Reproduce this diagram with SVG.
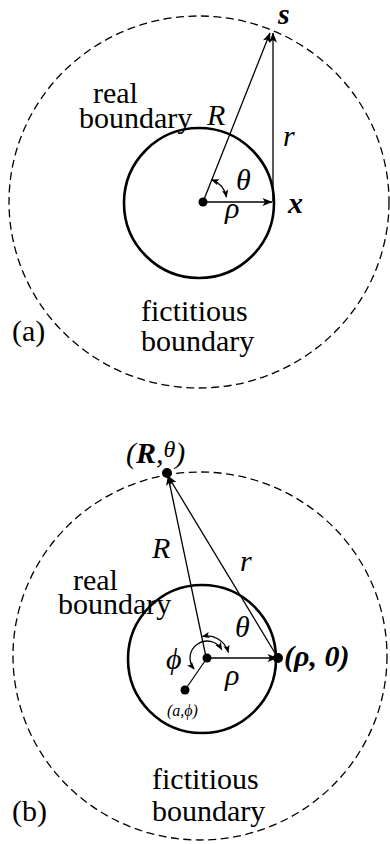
<svg xmlns="http://www.w3.org/2000/svg" width="390" height="844" viewBox="0 0 390 844">
<defs>
<marker id="ah" viewBox="0 0 10 8" refX="9.5" refY="4" markerWidth="11" markerHeight="8" markerUnits="userSpaceOnUse" orient="auto-start-reverse">
<path d="M0,0 L10,4 L0,8 L2.5,4 z" fill="#000"/>
</marker>
<marker id="ahs" viewBox="0 0 10 8" refX="9" refY="4" markerWidth="8" markerHeight="7" markerUnits="userSpaceOnUse" orient="auto-start-reverse">
<path d="M0,0 L10,4 L0,8 L2.5,4 z" fill="#000"/>
</marker>
</defs>
<style>
.fict{fill:none;stroke:#000;stroke-width:1.3;stroke-dasharray:8 4.5}
.real{fill:none;stroke:#000;stroke-width:2.6}
.ln{fill:none;stroke:#000;stroke-width:1.3}
.arr{fill:none;stroke:#000;stroke-width:1.3;marker-end:url(#ah)}
.ang{fill:none;stroke:#000;stroke-width:1.3;marker-start:url(#ahs);marker-end:url(#ahs)}
.dot{fill:#000}
text{font-family:"Liberation Serif","Times New Roman",serif;fill:#000}
.t{font-size:30px}
.i{font-style:italic}
.b{font-weight:bold}
</style>
<rect width="390" height="844" fill="#fff"/>

<!-- Diagram (a) -->
<g id="a-fictitious">
<ellipse class="fict" cx="199" cy="202" rx="190" ry="186"/>
<text class="t" x="141" y="321">fictitious</text>
<text class="t" x="141" y="351">boundary</text>
</g>
<g id="a-real">
<circle class="real" cx="199" cy="203" r="75"/>
<text class="t" x="93" y="103">real</text>
<text class="t" x="79" y="128">boundary</text>
</g>
<g id="a-center"><circle class="dot" cx="203" cy="202" r="4.5"/></g>
<g id="a-s"><text class="t i b" x="278" y="24" font-size="26">s</text></g>
<g id="a-x"><text class="t i b" x="288" y="213" font-size="27">x</text></g>
<g id="a-connectors">
<line class="arr" x1="203" y1="202" x2="272" y2="202"/>
<line class="arr" x1="203" y1="202" x2="270" y2="33"/>
<line class="arr" x1="273" y1="202" x2="273" y2="33"/>
<path class="ang" d="M211.8,179.7 A24,24 0 0 1 226.5,197"/>
</g>
<g id="a-labels">
<text class="t i" x="207" y="125">R</text>
<text class="t i" x="283" y="146">r</text>
<text class="t i" x="236" y="190" font-size="26">θ</text>
<text class="t i" x="225" y="218" font-size="26">ρ</text>
<text class="t" x="12" y="341">(a)</text>
</g>

<!-- Diagram (b) -->
<g id="b-fictitious">
<ellipse class="fict" cx="200" cy="656" rx="187" ry="184"/>
<text class="t" x="152" y="789">fictitious</text>
<text class="t" x="152" y="821">boundary</text>
</g>
<g id="b-real">
<circle class="real" cx="202" cy="659" r="74"/>
<text class="t" x="73" y="590">real</text>
<text class="t" x="58" y="614">boundary</text>
</g>
<g id="b-center"><circle class="dot" cx="207" cy="658" r="4.5"/></g>
<g id="b-Rtheta">
<circle class="dot" cx="167" cy="473" r="5"/>
<text x="126" y="463" font-size="30"><tspan class="i">(</tspan><tspan class="i b">R</tspan><tspan class="i">,</tspan><tspan class="i" font-size="24" dy="-6">θ</tspan><tspan class="i" dy="6">)</tspan></text>
</g>
<g id="b-rho0">
<circle class="dot" cx="278" cy="658" r="5"/>
<text class="i b" x="284" y="666" font-size="30">(ρ, 0)</text>
</g>
<g id="b-aphi">
<circle class="dot" cx="185" cy="690" r="4.5"/>
<text class="i" x="167" y="716" font-size="16">(a,ϕ)</text>
</g>
<g id="b-connectors">
<line class="arr" x1="207" y1="658" x2="277" y2="658"/>
<line class="arr" x1="206" y1="657" x2="168" y2="476"/>
<line class="arr" x1="278" y1="658" x2="168" y2="476"/>
<line class="ln" x1="207" y1="658" x2="185" y2="690"/>
<path class="ang" d="M202.4,636.5 A22,22 0 0 1 228.3,652.3"/>
<path class="ang" d="M221.7,649.5 A17,17 0 1 0 194,669"/>
</g>
<g id="b-labels">
<text class="t i" x="152" y="558">R</text>
<text class="t i" x="240" y="571">r</text>
<text class="t i" x="235" y="637" font-size="26">θ</text>
<text class="t i" x="166" y="669" font-size="28">ϕ</text>
<text class="t i" x="225" y="685" font-size="26">ρ</text>
<text class="t" x="12" y="821">(b)</text>
</g>
</svg>
